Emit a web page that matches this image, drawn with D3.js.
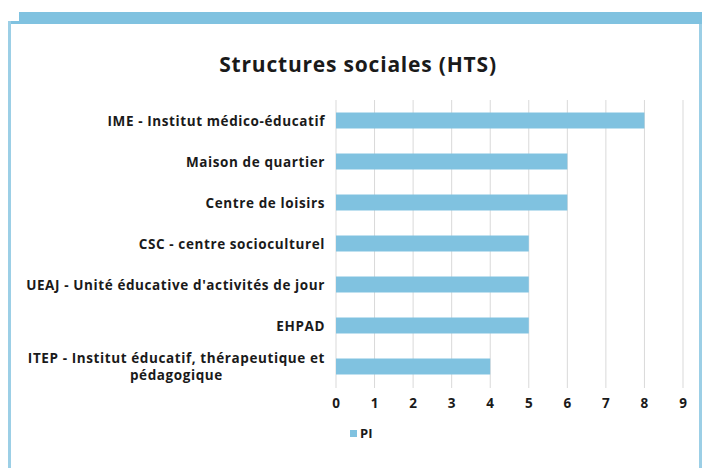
<!DOCTYPE html>
<html>
<head>
    <meta charset="utf-8">
    <script type="text/javascript" src="https://cdn.jsdelivr.net/npm/d3@7"></script>
    <style>
    body { margin:0; background:#fff; }
    text { font-family: "Open Sans", Lato, sans-serif; fill:#1a1a1a; }
    </style>
</head>
<body>
    <script>
    // categories top to bottom, and how many of each
    var categories = [
        "IME - Institut médico-éducatif",
        "Maison de quartier",
        "Centre de loisirs",
        "CSC - centre socioculturel",
        "UEAJ - Unité éducative d'activités de jour",
        "EHPAD",
        "ITEP - Institut éducatif, thérapeutique et|pédagogique"
    ];
    var values = [8, 6, 6, 5, 5, 5, 4];
    var ticks = [0, 1, 2, 3, 4, 5, 6, 7, 8, 9];
    var seriesName = "PI";

    var width = 702, height = 468;
    var blue = "#80c2e0";

    var svg = d3.select('body').append('svg')
        .attr('width', width)
        .attr('height', height);

    // frame: thick band on top, thin lines on the sides
    svg.append('rect').attr('x', 19).attr('y', 12).attr('width', 683).attr('height', 12).attr('fill', blue);
    svg.append('rect').attr('x', 8).attr('y', 21).attr('width', 13).attr('height', 3).attr('fill', blue);
    svg.append('rect').attr('x', 8).attr('y', 21).attr('width', 3).attr('height', 447).attr('fill', "#9ccfe6");
    svg.append('rect').attr('x', 699).attr('y', 24).attr('width', 3).attr('height', 444).attr('fill', "#9ccfe6");

    svg.append('text')
        .attr('x', 358).attr('y', 72)
        .attr('text-anchor', 'middle')
        .style('font-size', '21px').style('font-weight', 700)
        .style('letter-spacing', '0.8px')
        .text("Structures sociales (HTS)");

    var x = d3.scaleLinear().domain([0, 9]).range([336, 683]);
    var y = d3.scaleBand().domain(categories).range([100, 387]).paddingInner(0.61).paddingOuter(0.305);

    // vertical gridlines
    svg.selectAll('line.grid')
        .data(ticks)
        .enter().append('line')
        .attr('class', 'grid')
        .attr('x1', function(d){ return x(d); })
        .attr('x2', function(d){ return x(d); })
        .attr('y1', 100).attr('y2', 388)
        .style('stroke', '#d9d9d9').style('stroke-width', 1);

    svg.selectAll('rect.bar')
        .data(values)
        .enter().append('rect')
        .attr('class', 'bar')
        .attr('x', x(0))
        .attr('y', function(d, i){ return y(categories[i]); })
        .attr('width', function(d){ return x(d) - x(0); })
        .attr('height', y.bandwidth())
        .attr('fill', blue);

    // category labels, split on | for wrapped ones
    var lab = svg.selectAll('text.cat')
        .data(categories)
        .enter().append('text')
        .attr('class', 'cat')
        .style('font-size', '13.5px').style('font-weight', 700)
        .style('letter-spacing', '0.6px');
    lab.each(function(d){
        var parts = d.split('|');
        var cy = y(d) + y.bandwidth() / 2;
        var t = d3.select(this);
        if (parts.length == 1) {
            t.attr('x', 325).attr('y', cy + 5).attr('text-anchor', 'end').text(d);
        } else {
            t.attr('text-anchor', 'end').attr('x', 325).attr('y', cy - 4).text(parts[0]);
            var w = this.getComputedTextLength();
            svg.append('text')
                .attr('x', 325 - w / 2).attr('y', cy + 13)
                .attr('text-anchor', 'middle')
                .style('font-size', '13.5px').style('font-weight', 700)
                .style('letter-spacing', '0.6px')
                .text(parts[1]);
        }
    });

    // x tick labels
    svg.selectAll('text.tick')
        .data(ticks)
        .enter().append('text')
        .attr('class', 'tick')
        .attr('x', function(d){ return x(d); })
        .attr('y', 408)
        .attr('text-anchor', 'middle')
        .style('font-size', '13.5px').style('font-weight', 700)
        .text(function(d){ return d; });

    // legend
    svg.append('rect').attr('x', 350).attr('y', 430).attr('width', 7).attr('height', 7).attr('fill', blue);
    svg.append('text').attr('x', 360).attr('y', 438)
        .style('font-size', '13px').style('font-weight', 700)
        .text(seriesName);
    </script>
</body>
</html>
